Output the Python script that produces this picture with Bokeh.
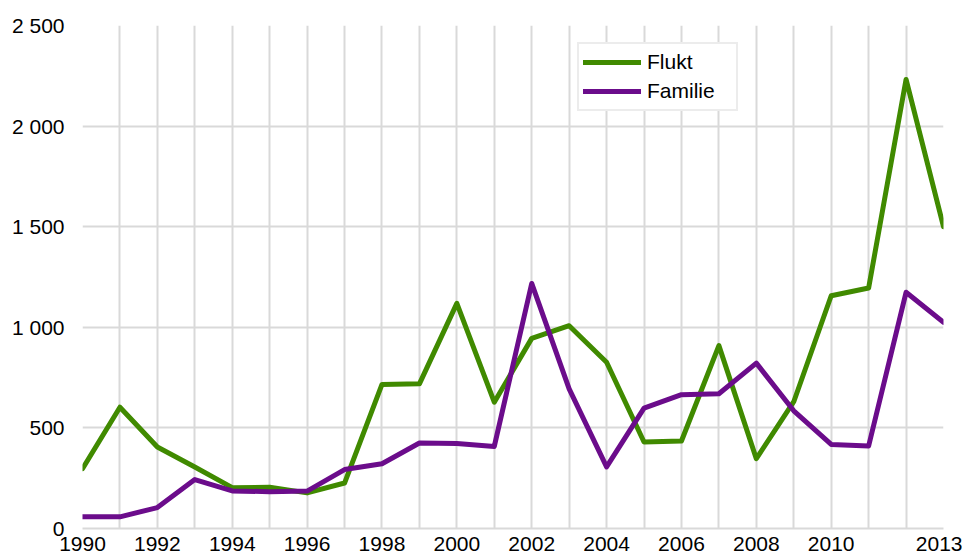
from bokeh.plotting import figure
from bokeh.models import Range1d, FixedTicker, ColumnDataSource, Legend, LegendItem
from bokeh.embed import file_html
from bokeh.resources import INLINE

years = list(range(1990, 2014))
flukt = [297, 603, 405, 306, 203, 205, 177, 226, 716, 719, 1119, 628, 945, 1008,
         826, 430, 435, 909, 347, 630, 1157, 1195, 2232, 1500]
familie = [58, 58, 104, 243, 187, 183, 186, 293, 322, 425, 423, 408, 1218, 694,
           306, 598, 665, 670, 822, 585, 418, 410, 1174, 1025]
x_tick_years = [1990, 1992, 1994, 1996, 1998, 2000, 2002, 2004, 2006, 2008, 2010, 2013]
y_ticks = [0, 500, 1000, 1500, 2000, 2500]
y_tick_labels = ["0", "500", "1 000", "1 500", "2 000", "2 500"]
series_names = ["Flukt", "Familie"]
colors = ["#408A00", "#6B0C8B"]

FONT = "Liberation Sans"
GRID = "#D9D9D9"
FS = "21px"

p = figure(width=962, height=554, output_backend="svg", toolbar_location=None,
           x_range=Range1d(1990, 2013), y_range=Range1d(0, 2500),
           min_border_left=82, min_border_right=19, min_border_top=25,
           min_border_bottom=26)
p.outline_line_color = None
p.background_fill_color = "white"
p.border_fill_color = "white"

src = ColumnDataSource(dict(year=years, flukt=flukt, familie=familie))
r1 = p.line("year", "flukt", source=src, line_color=colors[0], line_width=5,
            line_join="round", line_cap="round")
r2 = p.line("year", "familie", source=src, line_color=colors[1], line_width=5,
            line_join="round", line_cap="round")

# grids
p.xgrid.ticker = FixedTicker(ticks=years)
p.ygrid.ticker = FixedTicker(ticks=y_ticks)
for g in (p.xgrid, p.ygrid):
    g.grid_line_color = GRID
    g.grid_line_width = 2

# x axis
p.xaxis.ticker = FixedTicker(ticks=x_tick_years)
p.xaxis.axis_line_color = GRID
p.xaxis.axis_line_width = 2
p.xaxis.major_tick_line_color = None
p.xaxis.minor_tick_line_color = None
p.xaxis.major_tick_out = 0
p.xaxis.major_tick_in = 0
p.xaxis.major_label_standoff = 8
p.xaxis.major_label_text_font = FONT
p.xaxis.major_label_text_font_size = FS
p.xaxis.major_label_text_color = "#000000"

# y axis
p.yaxis.ticker = FixedTicker(ticks=y_ticks)
p.yaxis.major_label_overrides = {t: l for t, l in zip(y_ticks, y_tick_labels)}
p.yaxis.axis_line_color = None
p.yaxis.major_tick_line_color = None
p.yaxis.minor_tick_line_color = None
p.yaxis.major_tick_out = 0
p.yaxis.major_tick_in = 0
p.yaxis.major_label_standoff = 18
p.yaxis.major_label_text_font = FONT
p.yaxis.major_label_text_font_size = FS
p.yaxis.major_label_text_color = "#000000"

legend = Legend(items=[LegendItem(label=series_names[0], renderers=[r1]),
                       LegendItem(label=series_names[1], renderers=[r2])],
                location=(495, 417))
legend.label_text_font = FONT
legend.label_text_font_size = FS
legend.label_text_color = "#000000"
legend.padding = 4
legend.spacing = 1
legend.margin = 0
legend.glyph_height = 28
legend.label_height = 28
legend.glyph_width = 58
legend.label_width = 85
legend.label_standoff = 6
legend.border_line_color = GRID
legend.border_line_width = 2
legend.background_fill_color = "white"
legend.background_fill_alpha = 1.0
p.add_layout(legend, "center")

open("out.html", "w").write(file_html(p, INLINE))
